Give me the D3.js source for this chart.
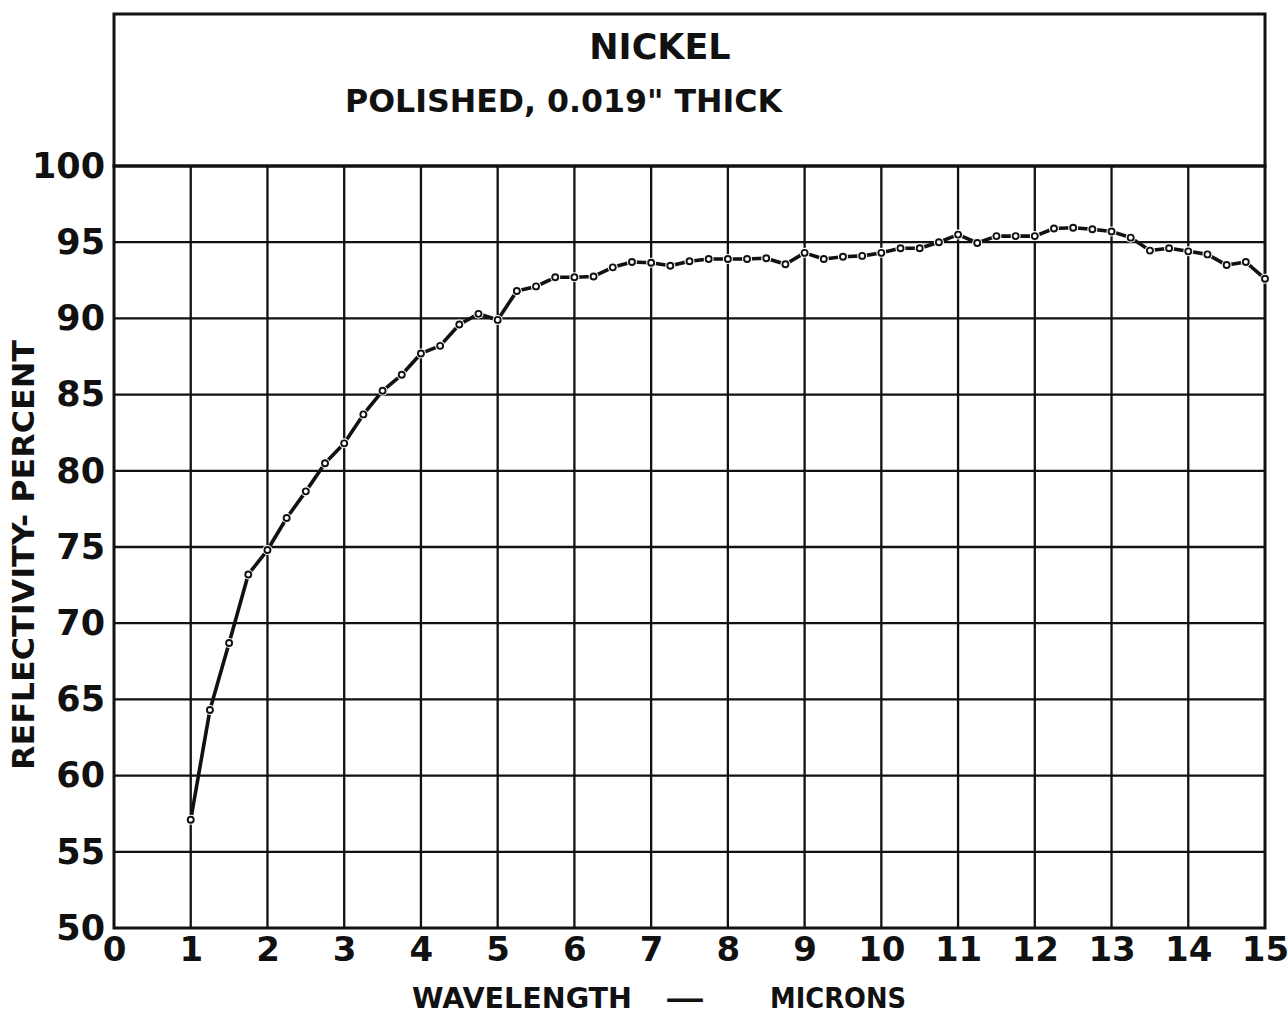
<!DOCTYPE html>
<html>
<head>
<meta charset="utf-8">
<title>Nickel reflectivity</title>
<script src="https://cdn.jsdelivr.net/npm/d3@7"></script>
<style>
  html, body { margin: 0; padding: 0; background: #fff; }
  svg { display: block; }
  text { font-family: "DejaVu Sans", sans-serif; font-weight: bold; fill: #111; }
</style>
</head>
<body>
<svg id="chart" width="1288" height="1015"></svg>
<script>
// Wavelength (microns) of each measured point
const wavelength = [
  1.0, 1.25, 1.5, 1.75, 2.0, 2.25, 2.5, 2.75, 3.0, 3.25, 3.5, 3.75,
  4.0, 4.25, 4.5, 4.75, 5.0, 5.25, 5.5, 5.75, 6.0, 6.25, 6.5, 6.75,
  7.0, 7.25, 7.5, 7.75, 8.0, 8.25, 8.5, 8.75, 9.0, 9.25, 9.5, 9.75,
  10.0, 10.25, 10.5, 10.75, 11.0, 11.25, 11.5, 11.75, 12.0, 12.25, 12.5, 12.75,
  13.0, 13.25, 13.5, 13.75, 14.0, 14.25, 14.5, 14.75, 15.0
];

// Reflectivity (percent) at each wavelength
const reflectivity = [
  57.1, 64.3, 68.7, 73.2, 74.8, 76.9, 78.65, 80.5, 81.8, 83.7, 85.25, 86.3,
  87.7, 88.2, 89.6, 90.3, 89.9, 91.8, 92.1, 92.7, 92.7, 92.75, 93.35, 93.7,
  93.65, 93.45, 93.75, 93.9, 93.9, 93.9, 93.95, 93.55, 94.3, 93.9, 94.05, 94.1,
  94.3, 94.6, 94.6, 95.0, 95.5, 94.95, 95.4, 95.4, 95.4, 95.9, 95.95, 95.85,
  95.7, 95.3, 94.45, 94.6, 94.4, 94.2, 93.5, 93.7, 92.6
];

// Axis tick values
const xTicks = [0, 1, 2, 3, 4, 5, 6, 7, 8, 9, 10, 11, 12, 13, 14, 15];
const yTicks = [50, 55, 60, 65, 70, 75, 80, 85, 90, 95, 100];

// Titles
const titleMain = "NICKEL";
const titleSub = "POLISHED, 0.019\" THICK";
const yTitle = "REFLECTIVITY- PERCENT";
const xTitleWords = ["WAVELENGTH", "—", "MICRONS"];

const points = wavelength.map((w, i) => ({ w, r: reflectivity[i] }));

const svg = d3.select("#chart");
const plot = { left: 114, right: 1265, top: 166, bottom: 928, boxTop: 14 };

const x = d3.scaleLinear().domain([0, 15]).range([plot.left, plot.right]);
const y = d3.scaleLinear().domain([50, 100]).range([plot.bottom, plot.top]);

// Grid lines
const grid = svg.append("g").attr("stroke", "#111").attr("stroke-width", 2.3);
grid.selectAll("line.v").data(xTicks.slice(1, -1)).join("line")
  .attr("class", "v")
  .attr("x1", d => x(d)).attr("x2", d => x(d))
  .attr("y1", plot.top).attr("y2", plot.bottom);
grid.selectAll("line.h").data(yTicks.slice(1, -1)).join("line")
  .attr("class", "h")
  .attr("x1", plot.left).attr("x2", plot.right)
  .attr("y1", d => y(d)).attr("y2", d => y(d));

// Frame: plot area plus the title panel above it
const frame = svg.append("g").attr("stroke", "#111").attr("stroke-width", 3).attr("fill", "none");
frame.append("rect").attr("x", plot.left).attr("y", plot.top)
  .attr("width", plot.right - plot.left).attr("height", plot.bottom - plot.top);
frame.append("rect").attr("x", plot.left).attr("y", plot.boxTop)
  .attr("width", plot.right - plot.left).attr("height", plot.top - plot.boxTop);

// Axis labels through D3 axes
const xAxis = svg.append("g")
  .attr("transform", `translate(0,${plot.bottom})`)
  .call(d3.axisBottom(x).tickValues(xTicks).tickFormat(d3.format("d")).tickSize(0).tickPadding(9));
xAxis.select(".domain").remove();
xAxis.selectAll("text").attr("font-size", 34).attr("font-family", "DejaVu Sans").attr("font-weight", "bold").attr("fill", "#111");

const yAxis = svg.append("g")
  .attr("transform", `translate(${plot.left},0)`)
  .call(d3.axisLeft(y).tickValues(yTicks).tickFormat(d3.format("d")).tickSize(0).tickPadding(9));
yAxis.select(".domain").remove();
yAxis.selectAll("text").attr("font-size", 35).attr("font-family", "DejaVu Sans").attr("font-weight", "bold").attr("fill", "#111");

// Titles
svg.append("text").attr("x", 660).attr("y", 59).attr("text-anchor", "middle")
  .attr("font-size", 35).text(titleMain);
svg.append("text").attr("x", 345).attr("y", 112)
  .attr("font-size", 32).attr("textLength", 437).attr("lengthAdjust", "spacingAndGlyphs")
  .text(titleSub);

svg.append("text")
  .attr("transform", "translate(34,555) rotate(-90)")
  .attr("text-anchor", "middle").attr("font-size", 30)
  .attr("textLength", 430).attr("lengthAdjust", "spacingAndGlyphs")
  .text(yTitle);

const xTitlePos = [{ x: 412, w: 220 }, { x: 665, w: 40 }, { x: 770, w: 136 }];
svg.append("g").selectAll("text").data(xTitleWords).join("text")
  .attr("x", (d, i) => xTitlePos[i].x).attr("y", 1008)
  .attr("font-size", 29)
  .attr("textLength", (d, i) => xTitlePos[i].w).attr("lengthAdjust", "spacingAndGlyphs")
  .text(d => d);

// Reflectivity curve
const line = d3.line().x(d => x(d.w)).y(d => y(d.r));
svg.append("path").datum(points)
  .attr("d", line)
  .attr("fill", "none").attr("stroke", "#111").attr("stroke-width", 3.6)
  .attr("stroke-linejoin", "round");

// Small gap around each measured point, then the open marker
svg.append("g").selectAll("circle").data(points).join("circle")
  .attr("cx", d => x(d.w)).attr("cy", d => y(d.r)).attr("r", 5.0)
  .attr("fill", "#fff");
svg.append("g").selectAll("circle").data(points).join("circle")
  .attr("cx", d => x(d.w)).attr("cy", d => y(d.r)).attr("r", 3.0)
  .attr("fill", "#fff").attr("stroke", "#111").attr("stroke-width", 1.9);
</script>
</body>
</html>
